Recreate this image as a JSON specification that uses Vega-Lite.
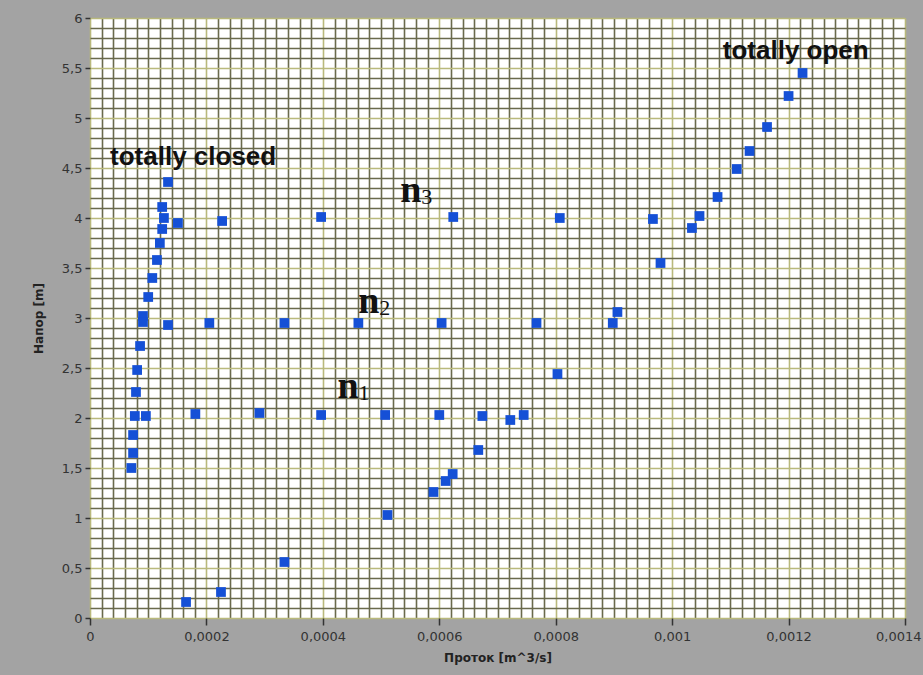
{
  "$schema": "https://vega.github.io/schema/vega-lite/v6.json",
  "width": 815,
  "height": 600,
  "autosize": "none",
  "padding": {"left": 90, "top": 18, "right": 18, "bottom": 57},
  "background": "#a3a3a3",
  "config": {"view": {"fill": "white", "stroke": null}, "font": "DejaVu Sans"},
  "layer": [
    {
      "data": {"values": [
        {"q": 0.000134, "h": 4.36}, {"q": 0.000124, "h": 4.11}, {"q": 0.000127, "h": 4.00},
        {"q": 0.000151, "h": 3.95}, {"q": 0.000124, "h": 3.89}, {"q": 0.000120, "h": 3.75},
        {"q": 0.000115, "h": 3.58}, {"q": 0.000107, "h": 3.40}, {"q": 0.000100, "h": 3.21},
        {"q": 0.000091, "h": 3.02}, {"q": 0.000091, "h": 2.96}, {"q": 0.000134, "h": 2.93},
        {"q": 0.000086, "h": 2.72}, {"q": 0.000081, "h": 2.48}, {"q": 0.000079, "h": 2.26},
        {"q": 0.000077, "h": 2.02}, {"q": 0.000096, "h": 2.02}, {"q": 0.000181, "h": 2.04},
        {"q": 0.000074, "h": 1.83}, {"q": 0.000074, "h": 1.65}, {"q": 0.000071, "h": 1.50},
        {"q": 0.000227, "h": 3.97}, {"q": 0.000205, "h": 2.95}, {"q": 0.000165, "h": 0.16},
        {"q": 0.000225, "h": 0.26}, {"q": 0.000334, "h": 0.56}, {"q": 0.000291, "h": 2.05},
        {"q": 0.000334, "h": 2.95}, {"q": 0.000397, "h": 4.01}, {"q": 0.000397, "h": 2.03},
        {"q": 0.000461, "h": 2.95}, {"q": 0.000507, "h": 2.03}, {"q": 0.000511, "h": 1.03},
        {"q": 0.000604, "h": 2.95}, {"q": 0.000600, "h": 2.03}, {"q": 0.000624, "h": 4.01},
        {"q": 0.000590, "h": 1.26}, {"q": 0.000611, "h": 1.37}, {"q": 0.000623, "h": 1.44},
        {"q": 0.000667, "h": 1.68}, {"q": 0.000674, "h": 2.02}, {"q": 0.000722, "h": 1.98},
        {"q": 0.000745, "h": 2.03}, {"q": 0.000767, "h": 2.95}, {"q": 0.000803, "h": 2.44},
        {"q": 0.000807, "h": 4.00}, {"q": 0.000898, "h": 2.95}, {"q": 0.000906, "h": 3.06},
        {"q": 0.000967, "h": 3.99}, {"q": 0.000980, "h": 3.55}, {"q": 0.001034, "h": 3.90},
        {"q": 0.001047, "h": 4.02}, {"q": 0.001078, "h": 4.21}, {"q": 0.001111, "h": 4.49},
        {"q": 0.001133, "h": 4.67}, {"q": 0.001163, "h": 4.91}, {"q": 0.001200, "h": 5.22},
        {"q": 0.001224, "h": 5.45}
      ]},
      "mark": {"type": "point", "shape": "square", "filled": true, "size": 95, "color": "#1550d6", "opacity": 1},
      "encoding": {
        "x": {
          "field": "q", "type": "quantitative",
          "scale": {"domain": [0, 0.0014], "nice": false, "zero": false},
          "axis": {
            "title": "Проток [m^3/s]",
            "tickCount": 70,
            "grid": true,
            "gridColor": {"condition": {"test": "abs(datum.value/0.0002 - round(datum.value/0.0002)) < 0.001", "value": "#b9b97c"}, "value": "#6a6a4c"},
            "gridWidth": 1.6,
            "gridOpacity": 1,
            "domain": false,
            "tickSize": {"condition": {"test": "abs(datum.value/0.0002 - round(datum.value/0.0002)) < 0.001", "value": 7}, "value": 0},
            "tickColor": "#333333",
            "tickWidth": 1.5,
            "labelExpr": "abs(datum.value/0.0002 - round(datum.value/0.0002)) < 0.001 ? replace(format(datum.value, '~g'), '.', ',') : ''",
            "labelOverlap": false,
            "labelFlush": false,
            "labelAlign": {"condition": {"test": "datum.value > 0.00139", "value": "right"}, "value": "center"},
            "labelOffset": {"condition": {"test": "datum.value > 0.00139", "value": 16}, "value": 0},
            "labelFont": "DejaVu Sans",
            "labelFontSize": 13,
            "labelColor": "#333333",
            "labelPadding": 5,
            "titleFont": "DejaVu Sans",
            "titleFontSize": 12,
            "titleFontWeight": "bold",
            "titleColor": "#222222",
            "titlePadding": 9
          }
        },
        "y": {
          "field": "h", "type": "quantitative",
          "scale": {"domain": [0, 6], "nice": false, "zero": false},
          "axis": {
            "title": "Напор [m]",
            "tickCount": 60,
            "grid": true,
            "gridColor": {"condition": {"test": "abs(datum.value/0.5 - round(datum.value/0.5)) < 0.001", "value": "#b9b97c"}, "value": "#6a6a4c"},
            "gridWidth": 1.6,
            "gridOpacity": 1,
            "domain": false,
            "tickSize": {"condition": {"test": "abs(datum.value/0.5 - round(datum.value/0.5)) < 0.001", "value": 5}, "value": 0},
            "tickColor": "#333333",
            "tickWidth": 1.5,
            "labelExpr": "abs(datum.value/0.5 - round(datum.value/0.5)) < 0.001 ? replace(format(datum.value, '~g'), '.', ',') : ''",
            "labelOverlap": false,
            "labelFlush": false,
            "labelFont": "DejaVu Sans",
            "labelFontSize": 13,
            "labelColor": "#333333",
            "labelPadding": 3,
            "titleFont": "DejaVu Sans",
            "titleFontSize": 12,
            "titleFontWeight": "bold",
            "titleColor": "#222222",
            "titlePadding": 16
          }
        }
      }
    },
    {
      "data": {"values": [
        {"q": 0.0000344, "h": 4.53, "label": "totally closed"},
        {"q": 0.001087, "h": 5.59, "label": "totally open"}
      ]},
      "mark": {"type": "text", "font": "Liberation Sans", "fontWeight": "bold", "fontSize": 26, "align": "left", "baseline": "alphabetic", "color": "#111111"},
      "encoding": {
        "x": {"field": "q", "type": "quantitative"},
        "y": {"field": "h", "type": "quantitative"},
        "text": {"field": "label"}
      }
    },
    {
      "data": {"values": [
        {"q": 0.000533, "h": 4.16, "n": "n", "sub": "3"},
        {"q": 0.000461, "h": 3.05, "n": "n", "sub": "2"},
        {"q": 0.000425, "h": 2.20, "n": "n", "sub": "1"}
      ]},
      "layer": [
        {
          "mark": {"type": "text", "font": "Liberation Serif", "fontWeight": "bold", "fontSize": 38, "align": "left", "baseline": "alphabetic", "color": "#111111"},
          "encoding": {
            "x": {"field": "q", "type": "quantitative"},
            "y": {"field": "h", "type": "quantitative"},
            "text": {"field": "n"}
          }
        },
        {
          "mark": {"type": "text", "font": "Liberation Serif", "fontSize": 22, "align": "left", "baseline": "alphabetic", "color": "#111111", "dx": 21, "dy": 2},
          "encoding": {
            "x": {"field": "q", "type": "quantitative"},
            "y": {"field": "h", "type": "quantitative"},
            "text": {"field": "sub"}
          }
        }
      ]
    }
  ]
}
